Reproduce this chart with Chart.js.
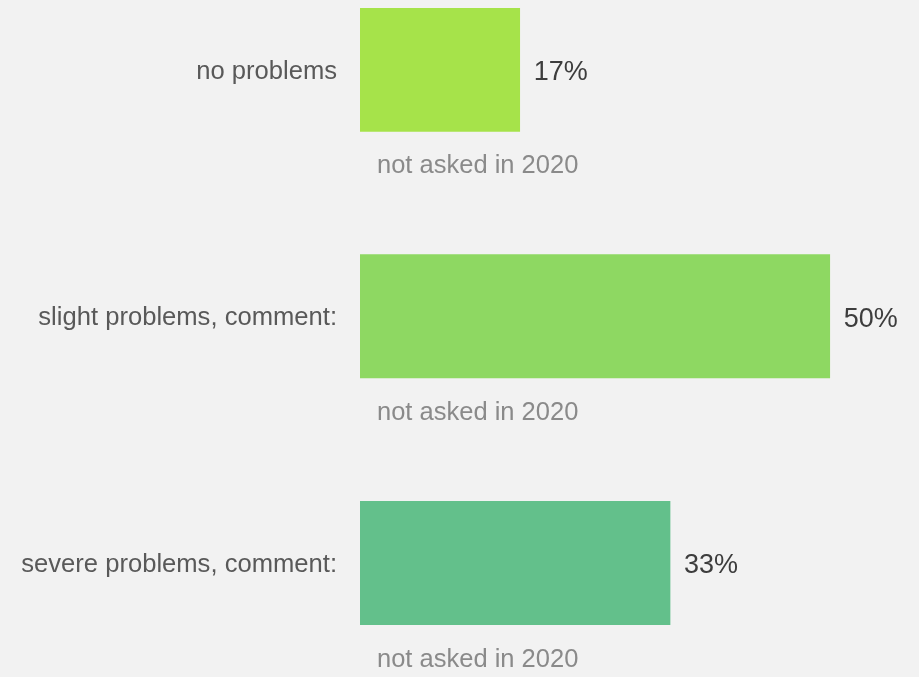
<!DOCTYPE html>
<html>
<head>
<meta charset="utf-8">
<script src="https://cdn.jsdelivr.net/npm/chart.js@4/dist/chart.umd.min.js"></script>
<style>
  html, body { margin: 0; padding: 0; background: #f2f2f2; overflow: hidden; }
  #wrap { width: 919px; height: 677px; overflow: hidden; }
</style>
</head>
<body>
<div id="wrap">
  <canvas id="grafico" width="919" height="760"></canvas>
</div>
<script>
// Respostas por categoria (2021) e ano anterior, que não foi perguntado
const categorias = ['no problems', 'slight problems, comment:', 'severe problems, comment:'];
const valores2021 = [17, 50, 33];
const valores2020 = [null, null, null];
const textoSemDados = 'not asked in 2020';
const cores = ['#a6e34a', '#8ed862', '#63c08b'];

const fonte = '"Liberation Sans", Arial, sans-serif';

// Escreve o percentual ao lado de cada barra e o aviso onde não há dados de 2020
const rotulosPlugin = {
    id: 'rotulos',
    afterDatasetsDraw(chart) {
        const ctx = chart.ctx;
        const yScale = chart.scales.y;
        const meta = chart.getDatasetMeta(0);
        ctx.save();
        ctx.textAlign = 'left';
        meta.data.forEach((bar, i) => {
            ctx.font = '27px ' + fonte;
            ctx.fillStyle = '#3d3d3d';
            ctx.textBaseline = 'middle';
            ctx.fillText(valores2021[i] + '%', bar.x + 14, bar.y + 3);
            if (valores2020[i] === null) {
                ctx.font = '25.5px ' + fonte;
                ctx.fillStyle = '#8a8a8a';
                ctx.textBaseline = 'alphabetic';
                ctx.fillText(textoSemDados, chart.chartArea.left + 17, yScale.getPixelForValue(i) + 42);
            }
        });
        ctx.restore();
    }
};

new Chart(document.getElementById('grafico'), {
    type: 'bar',
    data: {
        labels: categorias,
        datasets: [
            {
                label: '2021',
                data: valores2021,
                backgroundColor: cores,
                barPercentage: 1,
                categoryPercentage: 1,
            },
            {
                label: '2020',
                data: valores2020,
                backgroundColor: cores,
                barPercentage: 1,
                categoryPercentage: 1,
            },
        ],
    },
    options: {
        indexAxis: 'y',
        responsive: false,
        animation: false,
        layout: {
            padding: { top: 8, bottom: 12, left: 0, right: 0 },
        },
        scales: {
            x: {
                display: false,
                min: 0,
                max: 59.5,
            },
            y: {
                grid: { display: false, drawTicks: false },
                border: { display: false },
                ticks: {
                    color: '#595959',
                    font: { family: fonte, size: 25.6 },
                    padding: 23,
                    labelOffset: -59.7,
                },
                afterFit(scale) {
                    scale.width = 360;
                    scale.paddingTop = 0;
                    scale.paddingBottom = 0;
                },
            },
        },
        plugins: {
            legend: { display: false },
            tooltip: { enabled: false },
        },
    },
    plugins: [rotulosPlugin],
});
</script>
</body>
</html>
